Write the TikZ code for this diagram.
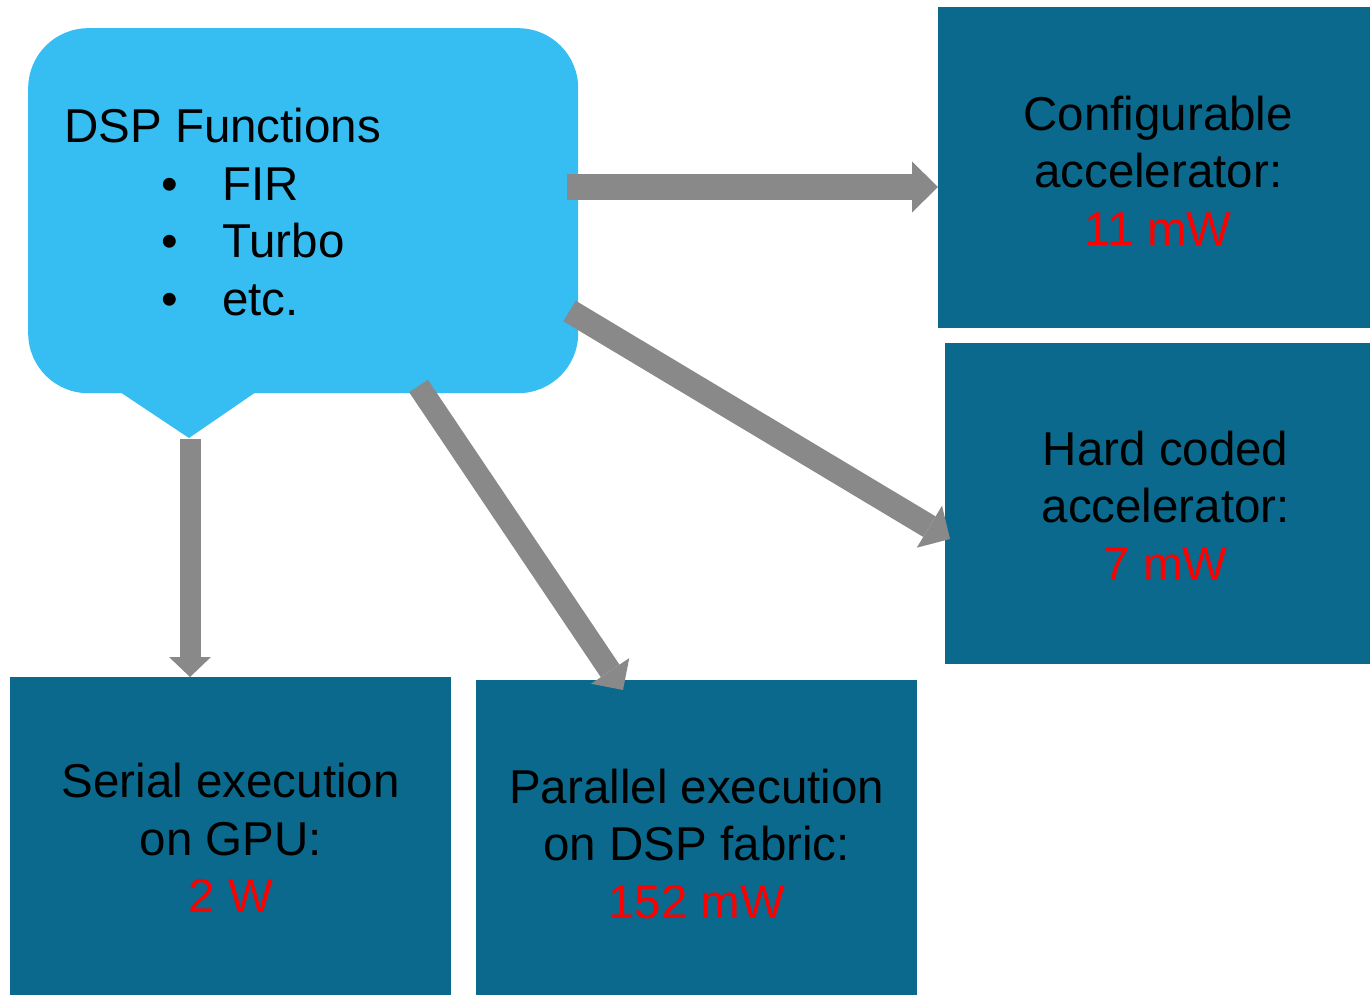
\documentclass[tikz,border=0pt]{standalone}
\usepackage{fontspec}
\setmainfont{Liberation Sans}
\usetikzlibrary{arrows.meta,calc}

\definecolor{calloutblue}{RGB}{54,190,242}
\definecolor{boxblue}{RGB}{10,105,140}
\definecolor{arrowgray}{RGB}{137,137,137}
\definecolor{valred}{RGB}{255,0,0}

\tikzset{
  bigtext/.style={font=\fontsize{47.5}{57.5}\selectfont, inner sep=0pt},
  darkbox/.style={fill=boxblue, draw=none, anchor=north west, inner sep=0pt},
  fatarrow/.style n args={3}{draw=arrowgray, line width=#1,
    -{Triangle[width=#2, length=#3, line width=0pt, fill=arrowgray]}},
  boxlabel/.style={bigtext, align=center, text=black},
}
\newcommand{\val}[1]{\textcolor{valred}{#1}}

\begin{document}
\begin{tikzpicture}[x=1pt,y=-1pt]
\useasboundingbox (0,0) rectangle (1370,995);

% speech-bubble with the function list
\node[fill=calloutblue, rounded corners=60pt, minimum width=550, minimum height=365,
      anchor=north west, inner sep=0pt] (fn) at (28,28) {};
\fill[calloutblue] (120,392) -- (189,438) -- (256,392) -- cycle;
\coordinate (fntip) at (190,439);

% anchored at the baseline of the last line
\node[bigtext, anchor=base west, align=left] (fnlist) at (64,315)
  {DSP Functions\\
   \hspace*{97pt}\makebox[61pt][l]{\textbullet}FIR\\
   \hspace*{97pt}\makebox[61pt][l]{\textbullet}Turbo\\
   \hspace*{97pt}\makebox[61pt][l]{\textbullet}etc.};

% target boxes
\node[darkbox, minimum width=432, minimum height=321] (cfg) at (938,7) {};
\node[darkbox, minimum width=425, minimum height=321] (hard) at (945,343) {};
\node[darkbox, minimum width=441, minimum height=318] (serial) at (10,677) {};
\node[darkbox, minimum width=441, minimum height=315] (par) at (476,680) {};

\node[boxlabel] (cfgtext) at ($(cfg.center)+(4,3)$)
  {Configurable\\accelerator:\\\val{11 mW}};
\node[boxlabel] (hardtext) at ($(hard.center)+(8,2)$)
  {Hard coded\\accelerator:\\\val{7 mW}};
\node[boxlabel] (serialtext) at ($(serial.center)+(0,2)$)
  {Serial execution\\on GPU:\\\val{2 W}};
\node[boxlabel] (partext) at ($(par.center)+(0,6)$)
  {Parallel execution\\on DSP fabric:\\\val{152 mW}};

% connectors
\coordinate (a1) at (567,187);
\draw[fatarrow={26pt}{51pt}{26pt}] (a1) -- (a1 -| cfg.west);

\coordinate (a2s) at (569.5,311);
\coordinate (a2e) at (950,539);
\draw[fatarrow={24pt}{49pt}{24pt}] (a2s) -- (a2e);

\coordinate (a3s) at (418.5,386);
\coordinate (a3e) at (623,690);
\draw[fatarrow={22.5pt}{46pt}{23pt}] (a3s) -- (a3e);

\draw[fatarrow={21pt}{42pt}{20pt}] (fntip) -- (fntip |- serial.north);
\end{tikzpicture}
\end{document}
